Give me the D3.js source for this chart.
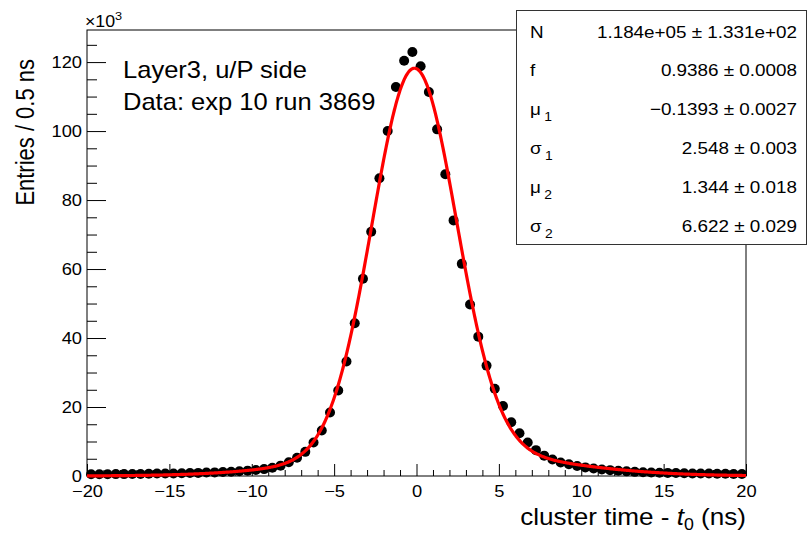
<!DOCTYPE html>
<html>
<head>
<meta charset="utf-8">
<style>
  body { margin: 0; background: #fff; }
  text { font-family: "Liberation Sans", Arial, Helvetica, sans-serif; }
</style>
</head>
<body>
<svg width="808" height="533"></svg>
<script src="https://d3js.org/d3.v7.min.js"></script>
<script>
// histogram: 80 bins of 0.5 ns from -20 to 20, counts in units of 10^3
var binWidth = 0.5;
var binStart = -20;
var counts = [
  0.5, 0.5, 0.5, 0.55, 0.55, 0.6, 0.6, 0.65, 0.7, 0.7,
  0.75, 0.8, 0.85, 0.9, 1.0, 1.05, 1.15, 1.25, 1.4, 1.55,
  1.75, 2.0, 2.4, 3.0, 4.0, 5.3, 7.0, 9.7, 13.2, 18.4,
  24.8, 33.2, 44.3, 57.2, 70.8, 86.3, 100.0, 112.8, 120.4, 122.9,
  118.8, 111.3, 100.5, 87.5, 74.1, 61.5, 49.7, 40.4, 32.0, 25.3,
  20.3, 15.6, 12.4, 9.7, 7.5, 5.9, 4.8, 3.9, 3.4, 2.9,
  2.5, 2.2, 1.9, 1.7, 1.5, 1.35, 1.2, 1.1, 1.0, 0.95,
  0.9, 0.85, 0.8, 0.75, 0.7, 0.7, 0.65, 0.65, 0.6, 0.6
];

// fit results shown in the stat box
var fitNames = ['N', 'f', 'μ', 'σ', 'μ', 'σ'];
var fitSubs = ['', '', '1', '1', '2', '2'];
var fitTexts = ['1.184e+05 ± 1.331e+02', '0.9386 ± 0.0008', '−0.1393 ± 0.0027',
                '2.548 ± 0.003', '1.344 ± 0.018', '6.622 ± 0.029'];
var fitN = 118.4, fitF = 0.9386, fitMu1 = -0.1393, fitS1 = 2.548, fitMu2 = 1.344, fitS2 = 6.622;

var xMajor = [-20, -15, -10, -5, 0, 5, 10, 15, 20];
var yMajor = [0, 20, 40, 60, 80, 100, 120];

var svg = d3.select('svg');
var frame = { left: 87, right: 746, top: 30, bottom: 476 };
var sx = 1.11; // text in the original is a bit wide

var x = d3.scaleLinear().domain([-20, 20]).range([frame.left, frame.right]);
var y = d3.scaleLinear().domain([0, 129.3]).range([frame.bottom, frame.top]);

var data = counts.map(function (c, i) {
  return { t: binStart + (i + 0.5) * binWidth, v: c };
});

function styleAxis(g, size) {
  g.select('.domain').remove();
  g.selectAll('line').attr('stroke', '#000');
  g.selectAll('text')
    .attr('font-family', '"Liberation Sans", Arial, sans-serif')
    .attr('font-size', size)
    .attr('fill', '#000')
    .attr('transform', 'scale(' + sx + ',1)');
}

// text placed at (px,py) and stretched horizontally
function label(px, py, size) {
  return svg.append('g')
    .attr('transform', 'translate(' + px + ',' + py + ') scale(' + sx + ',1)')
    .append('text')
    .attr('font-size', size);
}

// frame
svg.append('rect')
  .attr('x', frame.left).attr('y', frame.top)
  .attr('width', frame.right - frame.left).attr('height', frame.bottom - frame.top)
  .attr('fill', 'none').attr('stroke', '#000').attr('stroke-width', 1);

// x axis
var xMinor = d3.range(-20, 21, 1).filter(function (d) { return d % 5 !== 0; });
svg.append('g')
  .attr('transform', 'translate(0,' + frame.bottom + ')')
  .call(d3.axisBottom(x).tickValues(xMinor).tickSizeInner(-6).tickSizeOuter(0).tickFormat(''))
  .call(function (g) { styleAxis(g, 16.5); });
svg.append('g')
  .attr('transform', 'translate(0,' + frame.bottom + ')')
  .call(d3.axisBottom(x).tickValues(xMajor).tickSizeInner(-12).tickSizeOuter(0).tickPadding(9.5))
  .call(function (g) { styleAxis(g, 16.5); });

// y axis
var yMinor = d3.range(0, 130, 5).filter(function (d) { return d % 20 !== 0; });
svg.append('g')
  .attr('transform', 'translate(' + frame.left + ',0)')
  .call(d3.axisLeft(y).tickValues(yMinor).tickSizeInner(-10).tickSizeOuter(0).tickFormat(''))
  .call(function (g) { styleAxis(g, 16.5); });
svg.append('g')
  .attr('transform', 'translate(' + frame.left + ',0)')
  .call(d3.axisLeft(y).tickValues(yMajor).tickSizeInner(-19).tickSizeOuter(0).tickPadding(4.5))
  .call(function (g) { styleAxis(g, 16.5); });

// x10^3 label
var expo = label(85, 26.5, 16);
expo.append('tspan').text('×10');
expo.append('tspan').attr('dy', -7).attr('font-size', 11.5).text('3');

// axis titles
svg.append('g')
  .attr('transform', 'translate(33.5,59) scale(1.15,1) rotate(-90)')
  .append('text')
  .attr('text-anchor', 'end')
  .attr('font-size', 22)
  .text('Entries / 0.5 ns');

var xt = label(frame.right, 525, 23.5).attr('text-anchor', 'end');
xt.append('tspan').text('cluster time - ');
xt.append('tspan').attr('font-style', 'italic').text('t');
xt.append('tspan').attr('dy', 5).attr('font-size', 16).text('0');
xt.append('tspan').attr('dy', -5).text(' (ns)');

// data points
svg.append('g')
  .selectAll('circle')
  .data(data)
  .enter().append('circle')
  .attr('cx', function (d) { return x(d.t); })
  .attr('cy', function (d) { return y(d.v); })
  .attr('r', 5)
  .attr('fill', '#000');

// fit curve
function fitFunc(t) {
  return fitN * (fitF * Math.exp(-Math.pow(t - fitMu1, 2) / (2 * fitS1 * fitS1)) +
    (1 - fitF) * Math.exp(-Math.pow(t - fitMu2, 2) / (2 * fitS2 * fitS2)));
}
var fitPts = d3.range(0, 801).map(function (i) { return -20 + i * 0.05; });
svg.append('path')
  .datum(fitPts)
  .attr('fill', 'none')
  .attr('stroke', '#ff0000')
  .attr('stroke-width', 3.2)
  .attr('stroke-linejoin', 'round')
  .attr('d', d3.line().x(function (t) { return x(t); }).y(function (t) { return y(fitFunc(t)); }));

// labels
label(123, 78, 23).text('Layer3, u/P side');
label(123, 109.5, 23).text('Data: exp 10 run 3869');

// stat box
svg.append('rect')
  .attr('x', 516.5).attr('y', 10.5).attr('width', 290).attr('height', 234)
  .attr('fill', '#fff').attr('stroke', '#333').attr('stroke-width', 1);

fitNames.forEach(function (name, i) {
  var by = 37.5 + i * 38.9;
  var t = label(530, by, 17);
  t.append('tspan').text(name);
  if (fitSubs[i]) {
    t.append('tspan').attr('dx', 3).attr('dy', 6).attr('font-size', 12.5).text(fitSubs[i]);
  }
  label(797, by, 17).attr('text-anchor', 'end').text(fitTexts[i]);
});
</script>
</body>
</html>
